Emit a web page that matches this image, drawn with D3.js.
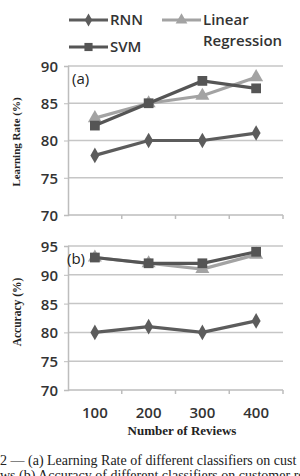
<!DOCTYPE html>
<html lang="en">
<head>
    <meta charset="UTF-8">
    <title>Learning Rate / Accuracy</title>
    <style>
        body {
            margin: 0;
            background: #fff;
        }
        svg {
            display: block;
        }
        .tick-label {
            font-family: "Open Sans", sans-serif;
            font-size: 15px;
            font-weight: 600;
            fill: #333;
        }
        .serif-title {
            font-family: "Liberation Serif", "Times New Roman", serif;
            font-weight: bold;
            fill: #222;
        }
    </style>
</head>
<body>
<div id="chart"></div>

<script src="https://cdn.jsdelivr.net/npm/d3@7"></script>
<script>
    // data
    const reviews = ["100", "200", "300", "400"];
    const seriesNames = ["RNN", "SVM", "Linear Regression"];

    // (a) learning rate
    const rateRNN = [78, 80, 80, 81];
    const rateSVM = [82, 85, 88, 87];
    const rateLR = [83, 85, 86, 88.5];

    // (b) accuracy
    const accRNN = [80, 81, 80, 82];
    const accSVM = [93, 92, 92, 94];
    const accLR = [93, 92, 91, 93.5];

    const rateTicks = [70, 75, 80, 85, 90];
    const accTicks = [70, 75, 80, 85, 90, 95];

    const W = 300, H = 476;
    const svg = d3.select("#chart").append("svg")
        .attr("width", W)
        .attr("height", H);

    const styles = {
        "RNN": {color: "#5c5c5c", symbol: d3.symbolDiamond, size: 70},
        "SVM": {color: "#555555", symbol: d3.symbolSquare, size: 95},
        "Linear Regression": {color: "#a3a3a3", symbol: d3.symbolTriangle, size: 85}
    };

    const x = d3.scaleBand()
        .domain(reviews)
        .range([68, 283]);

    // draw one panel
    function panel(opts) {
        const y = d3.scaleLinear()
            .domain(opts.domain)
            .range(opts.range);
        const g = svg.append("g");

        // gridlines
        g.selectAll("line.grid")
            .data(opts.ticks.slice(1))
            .enter().append("line")
            .attr("x1", x.range()[0])
            .attr("x2", x.range()[1])
            .attr("y1", d => y(d))
            .attr("y2", d => y(d))
            .attr("stroke", "#c6c6c6")
            .attr("stroke-width", 1.5);

        // y axis
        const yAxis = d3.axisLeft(y)
            .tickValues(opts.ticks)
            .tickSize(4)
            .tickPadding(6)
            .tickFormat(d3.format("d"));
        const ya = g.append("g")
            .attr("transform", "translate(" + x.range()[0] + ",0)")
            .call(yAxis);
        ya.select(".domain").attr("stroke", "#bdbdbd").attr("stroke-width", 1.5);
        ya.selectAll(".tick line").attr("stroke", "#bdbdbd");
        ya.selectAll(".tick text")
            .attr("class", "tick-label")
            .attr("dy", "0.36em")
            .attr("font-size", null)
            .attr("font-family", null)
            .attr("fill", null);

        // x axis, ticks between categories
        const xa = g.append("g")
            .attr("transform", "translate(0," + y(opts.domain[0]) + ")");
        xa.append("line")
            .attr("x1", x.range()[0])
            .attr("x2", x.range()[1])
            .attr("stroke", "#bdbdbd")
            .attr("stroke-width", 1.5);
        xa.selectAll("line.xt")
            .data(reviews)
            .enter().append("line")
            .attr("x1", d => x(d) + x.bandwidth())
            .attr("x2", d => x(d) + x.bandwidth())
            .attr("y1", 0)
            .attr("y2", 4)
            .attr("stroke", "#bdbdbd")
            .attr("stroke-width", 1.5);

        // series lines and markers
        const line = d3.line()
            .x((d, i) => x(reviews[i]) + x.bandwidth() / 2)
            .y(d => y(d));

        opts.series.forEach(s => {
            const st = styles[s.name];
            g.append("path")
                .datum(s.values)
                .attr("d", line)
                .attr("fill", "none")
                .attr("stroke", st.color)
                .attr("stroke-width", 3.2);
            g.selectAll(null)
                .data(s.values)
                .enter().append("path")
                .attr("d", d3.symbol().type(st.symbol).size(st.size))
                .attr("transform", (d, i) => "translate(" + (x(reviews[i]) + x.bandwidth() / 2) + "," + y(d) + ")")
                .attr("fill", st.color);
        });

        // panel label
        g.append("text")
            .attr("x", opts.labelPos[0])
            .attr("y", opts.labelPos[1])
            .attr("font-family", "Open Sans, sans-serif")
            .attr("font-size", 15)
            .attr("fill", "#222")
            .text(opts.label);

        // y title
        g.append("text")
            .attr("class", "serif-title")
            .attr("font-size", opts.titleSize)
            .attr("text-anchor", "middle")
            .attr("transform", "translate(" + opts.titlePos[0] + "," + opts.titlePos[1] + ") rotate(-90)")
            .text(opts.title);

        return y;
    }

    panel({
        domain: [70, 90], range: [215, 66], ticks: rateTicks,
        series: [
            {name: "RNN", values: rateRNN},
            {name: "Linear Regression", values: rateLR},
            {name: "SVM", values: rateSVM}
        ],
        label: "(a)", labelPos: [72, 84],
        title: "Learning Rate (%)", titlePos: [20, 142], titleSize: 11
    });

    panel({
        domain: [70, 95], range: [390, 246], ticks: accTicks,
        series: [
            {name: "RNN", values: accRNN},
            {name: "Linear Regression", values: accLR},
            {name: "SVM", values: accSVM}
        ],
        label: "(b)", labelPos: [67, 264],
        title: "Accuracy (%)", titlePos: [21, 312], titleSize: 11.5
    });

    // x tick labels
    svg.selectAll("text.xl")
        .data(reviews)
        .enter().append("text")
        .attr("class", "tick-label")
        .attr("text-anchor", "middle")
        .attr("x", d => x(d) + x.bandwidth() / 2)
        .attr("y", 418)
        .text(d => d);

    svg.append("text")
        .attr("class", "serif-title")
        .attr("font-size", 13)
        .attr("text-anchor", "middle")
        .attr("x", 182)
        .attr("y", 435)
        .text("Number of Reviews");

    // legend
    const legendPos = {
        "RNN": [69, 20],
        "SVM": [69, 47],
        "Linear Regression": [162, 20]
    };
    seriesNames.forEach(name => {
        const st = styles[name];
        const p = legendPos[name];
        const lg = svg.append("g").attr("transform", "translate(" + p[0] + "," + p[1] + ")");
        lg.append("line")
            .attr("x1", 0).attr("x2", 39)
            .attr("stroke", st.color)
            .attr("stroke-width", 3.2);
        lg.append("path")
            .attr("d", d3.symbol().type(st.symbol).size(st.size * 0.7))
            .attr("transform", "translate(19.5,0)")
            .attr("fill", st.color);
        const t = lg.append("text")
            .attr("x", 41)
            .attr("y", 0)
            .attr("font-family", "Open Sans, sans-serif")
            .attr("font-size", 15)
            .attr("font-weight", 600)
            .attr("fill", "#333");
        const words = name === "Linear Regression" ? ["Linear", "Regression"] : [name];
        words.forEach((w, i) => {
            t.append("tspan")
                .attr("x", 41)
                .attr("dy", i === 0 ? "0.36em" : "1.4em")
                .text(w);
        });
    });

    // caption, as much of it as the crop shows
    const caption = [
        "2 — (a) Learning Rate of different classifiers on cust",
        "ws (b) Accuracy of different classifiers on customer revi"
    ];
    svg.selectAll("text.cap")
        .data(caption)
        .enter().append("text")
        .attr("x", 0)
        .attr("y", (d, i) => 465 + i * 14.5)
        .attr("font-family", "Liberation Serif, Times New Roman, serif")
        .attr("font-size", 14)
        .attr("fill", "#222")
        .text(d => d);
</script>
</body>
</html>
